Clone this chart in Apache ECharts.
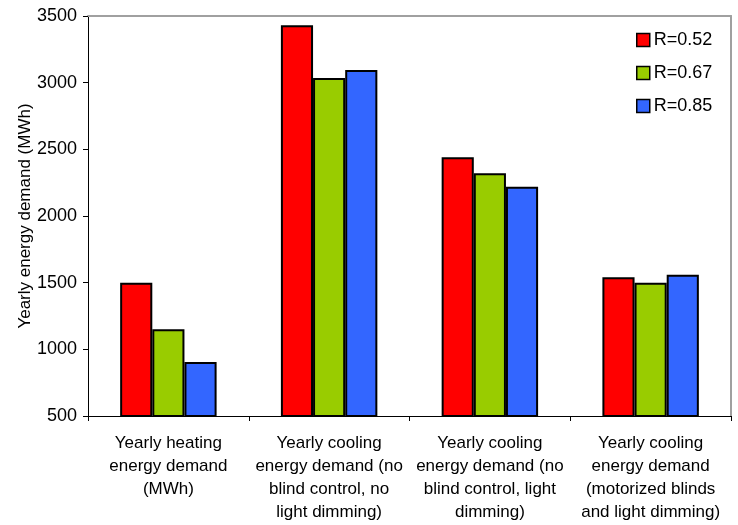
<!DOCTYPE html>
<html>
<head>
<meta charset="utf-8">
<script src="https://cdn.jsdelivr.net/npm/echarts@6/dist/echarts.min.js"></script>
<style>html,body{margin:0;padding:0;background:#fff}#c{width:738px;height:525px}</style>
</head>
<body>
<div id="c"></div>
<script>
const categories = [
  "Yearly heating\nenergy demand\n(MWh)",
  "Yearly cooling\nenergy demand (no\nblind control, no\nlight dimming)",
  "Yearly cooling\nenergy demand (no\nblind control, light\ndimming)",
  "Yearly cooling\nenergy demand\n(motorized blinds\nand light dimming)"
];
const seriesNames = ["R=0.52", "R=0.67", "R=0.85"];
const r052 = [1500, 3430, 2440, 1540];
const r067 = [1150, 3035, 2320, 1500];
const r085 = [905, 3095, 2220, 1560];
const yTicks = [500, 1000, 1500, 2000, 2500, 3000, 3500];
const colors = ["#FF0000", "#99CC00", "#3366FF"];

const font = "Liberation Sans, Arial, sans-serif";
const chart = echarts.init(document.getElementById('c'));
const data = [r052, r067, r085];
chart.setOption({
  animation: false,
  textStyle: { fontFamily: font },
  grid: { left: 88, right: 7, top: 16, bottom: 109 },
  legend: {
    orient: 'vertical', left: 631, top: 26, itemWidth: 13, itemHeight: 13, itemGap: 15,
    icon: 'rect', itemStyle: { borderColor: '#000', borderWidth: 1.5 },
    textStyle: { fontSize: 18, color: '#000', fontFamily: font, padding: [0, 0, 0, -1] },
    data: seriesNames
  },
  xAxis: [{
    type: 'category', data: categories,
    axisLine: { lineStyle: { color: '#000', width: 1 } },
    axisTick: { show: true, length: 5, lineStyle: { color: '#000' } },
    axisLabel: { color: '#000', fontSize: 17, lineHeight: 23, margin: 16, interval: 0, fontFamily: font }
  }, {
    type: 'category', data: categories, position: 'top',
    axisLine: { lineStyle: { color: '#a0a0a0', width: 2 } },
    axisTick: { show: false }, axisLabel: { show: false }
  }],
  yAxis: [{
    type: 'value', min: yTicks[0], max: yTicks[yTicks.length - 1], interval: 500,
    name: 'Yearly energy demand (MWh)', nameLocation: 'middle', nameGap: 54, nameMoveOverlap: false,
    nameTextStyle: { fontSize: 17, color: '#000', fontFamily: font },
    axisLine: { show: true, lineStyle: { color: '#000', width: 1 } },
    axisTick: { show: true, length: 5, lineStyle: { color: '#000' } },
    axisLabel: { color: '#000', fontSize: 18, margin: 11, fontFamily: font, formatter: v => String(v) },
    splitLine: { show: false }
  }, {
    type: 'value', min: yTicks[0], max: yTicks[yTicks.length - 1], interval: 500, position: 'right',
    axisLine: { show: true, lineStyle: { color: '#a0a0a0', width: 2 } },
    axisTick: { show: false }, axisLabel: { show: false }, splitLine: { show: false }
  }],
  series: seriesNames.map((n, i) => ({
    name: n, type: 'bar', data: data[i], barGap: '0%', barCategoryGap: '40%',
    itemStyle: { color: colors[i], borderColor: '#000', borderWidth: 2 }
  }))
});
</script>
</body>
</html>
